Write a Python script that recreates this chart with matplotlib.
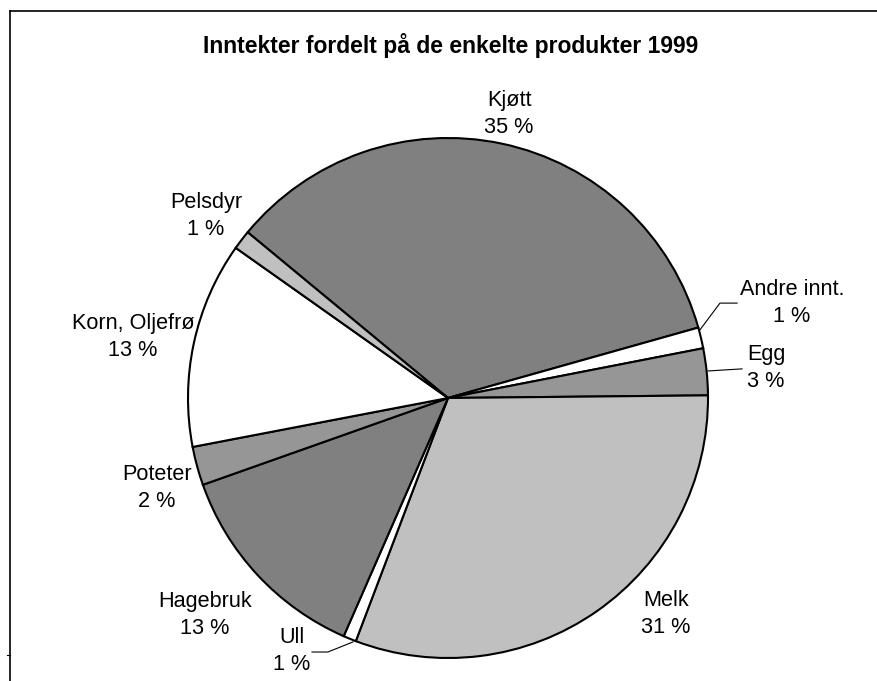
import matplotlib
matplotlib.use('Agg')
import matplotlib.pyplot as plt
from matplotlib.lines import Line2D

plt.rcParams['font.family'] = ['Liberation Sans', 'DejaVu Sans']

# data (clockwise from Kjøtt)
kategorier = ['Kjøtt', 'Andre innt.', 'Egg', 'Melk', 'Ull', 'Hagebruk', 'Poteter', 'Korn, Oljefrø', 'Pelsdyr']
andel = [34.6, 1.3, 2.9, 30.9, 0.8, 13.0, 2.4, 12.8, 1.2]
etiketter = ['35 %', '1 %', '3 %', '31 %', '1 %', '13 %', '2 %', '13 %', '1 %']
farger = ['#808080', '#ffffff', '#969696', '#c0c0c0', '#ffffff', '#808080', '#969696', '#ffffff', '#c0c0c0']

# label positions (axes data units, radius = 1)
etikett_pos = [(0.235, 1.092), (1.323, 0.365), (1.223, 0.115), (0.838, -0.831),
               (-0.60, -0.973), (-0.935, -0.835), (-1.119, -0.346), (-1.212, 0.235), (-0.931, 0.700)]

W, H = 878, 681
fig = plt.figure(figsize=(W / 100, H / 100), dpi=100)

cx, cy, R = 448, 398, 260
ax = fig.add_axes([(cx - R) / W, (H - cy - R) / H, 2 * R / W, 2 * R / H])
ax.pie(andel, colors=farger, startangle=140.4, counterclock=False, radius=1,
       wedgeprops=dict(edgecolor='black', linewidth=1.5))
ax.set_xlim(-1, 1)
ax.set_ylim(-1, 1)
ax.set_aspect('equal')
ax.axis('off')

for navn, lab, (x, y) in zip(kategorier, etiketter, etikett_pos):
    ax.text(x, y, navn + '\n' + lab, ha='center', va='center', fontsize=15.6,
            linespacing=1.38, color='black', clip_on=False)

# leader lines
ledere = [
    [(0.969, 0.262), (1.046, 0.365), (1.112, 0.365)],
    [(1.0, 0.104), (1.131, 0.112)],
    [(-0.365, -0.938), (-0.462, -0.977), (-0.523, -0.977)],
]
for pts in ledere:
    xs, ys = zip(*pts)
    ax.plot(xs, ys, color='black', linewidth=0.8, clip_on=False)

fig.text(451 / W, 1 - 46 / H, 'Inntekter fordelt på de enkelte produkter 1999',
         ha='center', va='center', fontsize=16.5, fontweight='bold')

# chart frame (partly visible)
fig.add_artist(Line2D([10 / W, 10 / W], [0, 1 - 11 / H], color='black', linewidth=1.2))
fig.add_artist(Line2D([10 / W, 1], [1 - 11 / H, 1 - 11 / H], color='black', linewidth=1.2))
fig.add_artist(Line2D([7 / W, 10 / W], [1 - 655 / H, 1 - 655 / H], color='black', linewidth=0.8))

fig.savefig('out.png', dpi=100)
